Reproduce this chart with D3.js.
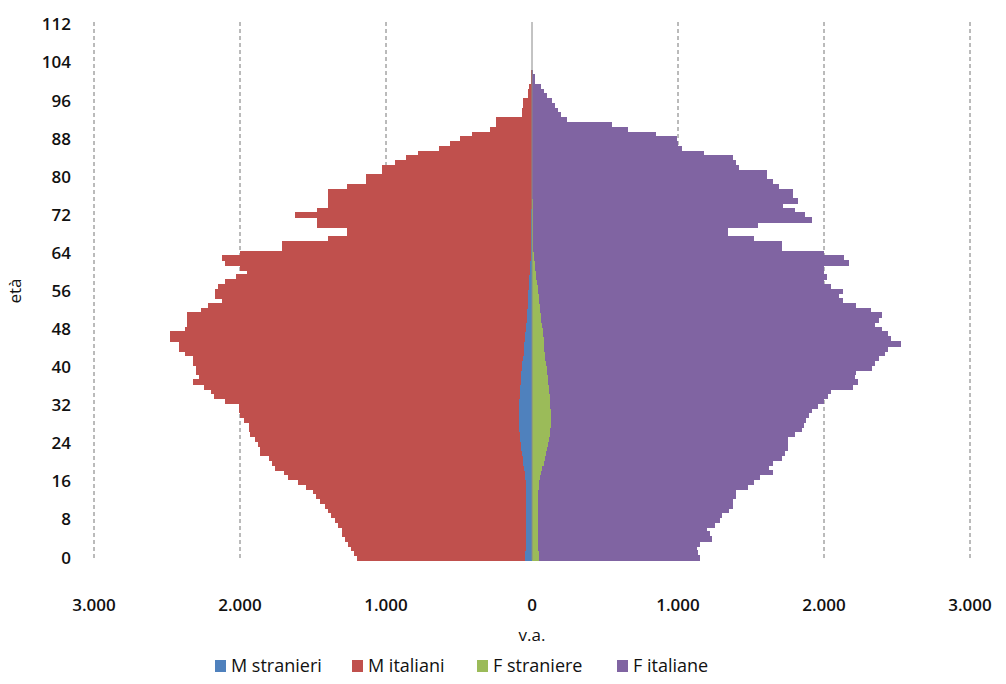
<!DOCTYPE html>
<html>
<head>
<meta charset="utf-8">
<script src="https://cdn.jsdelivr.net/npm/d3@7"></script>
<style>
  body { margin: 0; background: #fff; }
  text { font-family: "Open Sans", "Liberation Sans", sans-serif; fill: #111; }
</style>
</head>
<body>
<svg width="1006" height="684"></svg>
<script>
// ages 0..112
const ages = d3.range(0, 113);
const ageTicks = d3.range(0, 113, 8);
const xTicks = [-3000, -2000, -1000, 0, 1000, 2000, 3000];

// total males / females per age
const maleTotal = [1200,1220,1240,1260,1280,1300,1300,1330,1350,1380,1400,1420,1450,1480,1500,1550,1600,1670,1700,1760,
  1780,1800,1860,1860,1880,1900,1930,1940,1940,1970,2000,2010,2010,2100,2180,2200,2250,2320,2280,2300,
  2300,2320,2320,2380,2420,2420,2480,2480,2380,2360,2360,2360,2270,2220,2120,2170,2170,2150,2100,2030,
  1950,2000,2100,2120,2000,1710,1710,1400,1270,1270,1470,1470,1620,1470,1400,1400,1400,1400,1270,1140,
  1140,1030,1030,940,860,780,640,560,490,410,290,250,250,70,70,60,60,30,30,20,
  10,10,5,0,0,0,0,0,0,0,0,0,0];
const femaleTotal = [1150,1140,1130,1150,1230,1220,1200,1250,1290,1300,1350,1380,1380,1400,1400,1480,1520,1560,1650,1620,
  1650,1710,1730,1750,1750,1750,1800,1850,1860,1880,1900,1920,1960,2000,2030,2050,2200,2230,2210,2220,
  2330,2350,2380,2420,2440,2530,2460,2440,2400,2350,2380,2400,2320,2220,2130,2100,2130,2050,2000,2020,
  2000,2000,2170,2140,2000,1710,1710,1520,1340,1340,1550,1920,1870,1800,1720,1820,1790,1790,1690,1650,
  1610,1610,1420,1400,1380,1180,1030,1000,990,850,660,550,240,200,180,160,140,100,80,60,
  20,20,10,0,0,0,0,0,0,0,0,0,0];
// foreigners per age
const maleForeign = [45,45,44,44,43,42,42,41,40,40,40,40,40,40,40,42,44,46,50,55,
  60,65,70,75,78,82,85,88,90,92,92,90,88,86,84,82,80,78,75,72,
  70,66,62,58,55,52,48,45,42,40,37,35,32,30,28,26,24,22,20,18,
  16,14,12,10,9,8,7,6,6,5,5,4,4,4,3,3,3,3,2,2,
  2,2,2,1,1,1,1,1,1,1,1,0,0,0,0,0,0,0,0,0,
  0,0,0,0,0,0,0,0,0,0,0,0,0];
const femaleForeign = [45,45,44,44,43,42,42,41,40,40,40,40,40,40,42,45,50,55,62,70,
  80,88,95,102,108,115,120,125,128,130,130,128,126,124,120,118,115,112,108,104,
  100,96,92,88,85,82,80,76,72,68,64,60,56,52,48,45,42,38,34,30,
  26,22,18,15,12,10,9,8,7,6,6,5,5,4,4,4,3,3,3,2,
  2,2,2,2,1,1,1,1,1,1,1,0,0,0,0,0,0,0,0,0,
  0,0,0,0,0,0,0,0,0,0,0,0,0];

const series = [
  { name: "M stranieri", color: "#4f81bd" },
  { name: "M italiani", color: "#c0504d" },
  { name: "F straniere", color: "#9bbb59" },
  { name: "F italiane", color: "#8064a2" }
];

const svg = d3.select("svg");
const x = d3.scaleLinear().domain([-3000, 3000]).range([94, 970]);
const y = d3.scaleBand().domain(ages).range([560, 22]).paddingInner(0);

// grid
svg.append("g").selectAll("line")
  .data(xTicks.filter(t => t !== 0))
  .join("line")
  .attr("x1", d => x(d)).attr("x2", d => x(d))
  .attr("y1", 22).attr("y2", 560)
  .attr("stroke", "#777").attr("stroke-dasharray", "4,3").attr("stroke-width", 1);

// bars: [start, end, color] per age
const segs = [];
ages.forEach((a, i) => {
  segs.push({ a, x0: -maleForeign[i], x1: 0, c: series[0].color });
  segs.push({ a, x0: -maleTotal[i], x1: -maleForeign[i], c: series[1].color });
  segs.push({ a, x0: 0, x1: femaleForeign[i], c: series[2].color });
  segs.push({ a, x0: femaleForeign[i], x1: femaleTotal[i], c: series[3].color });
});
svg.append("g").attr("shape-rendering", "crispEdges").selectAll("rect")
  .data(segs.filter(s => s.x1 > s.x0))
  .join("rect")
  .attr("x", d => x(d.x0))
  .attr("width", d => x(d.x1) - x(d.x0))
  .attr("y", d => y(d.a))
  .attr("height", y.bandwidth() + 1)
  .attr("fill", d => d.c);

// zero axis line
svg.append("line")
  .attr("x1", x(0)).attr("x2", x(0)).attr("y1", 22).attr("y2", 560)
  .attr("stroke", "#888").attr("stroke-width", 1);

// y tick labels
svg.append("g").selectAll("text")
  .data(ageTicks)
  .join("text")
  .attr("x", 71)
  .attr("y", d => y(d) + y.bandwidth() / 2)
  .attr("dy", "0.35em")
  .attr("text-anchor", "end")
  .attr("font-size", 17)
  .attr("font-weight", 600)
  .text(d => d);

// x tick labels
const fmt = v => d3.format(",")(Math.abs(v)).replace(/,/g, ".");
svg.append("g").selectAll("text")
  .data(xTicks)
  .join("text")
  .attr("x", d => x(d))
  .attr("y", 611)
  .attr("text-anchor", "middle")
  .attr("font-size", 17)
  .attr("font-weight", 600)
  .text(fmt);

svg.append("text").attr("x", x(0)).attr("y", 641)
  .attr("text-anchor", "middle").attr("font-size", 17).text("v.a.");
svg.append("text").attr("transform", "translate(21,291) rotate(-90)")
  .attr("text-anchor", "middle").attr("font-size", 17).text("età");

// legend
const legX = [215, 352, 477, 617];
const leg = svg.append("g").selectAll("g")
  .data(series)
  .join("g")
  .attr("transform", (d, i) => `translate(${legX[i]},666)`);
leg.append("rect").attr("x", 0).attr("y", -6).attr("width", 11).attr("height", 12).attr("fill", d => d.color);
leg.append("text").attr("x", 16).attr("y", 0).attr("dy", "0.35em").attr("font-size", 18).text(d => d.name);
</script>
</body>
</html>
